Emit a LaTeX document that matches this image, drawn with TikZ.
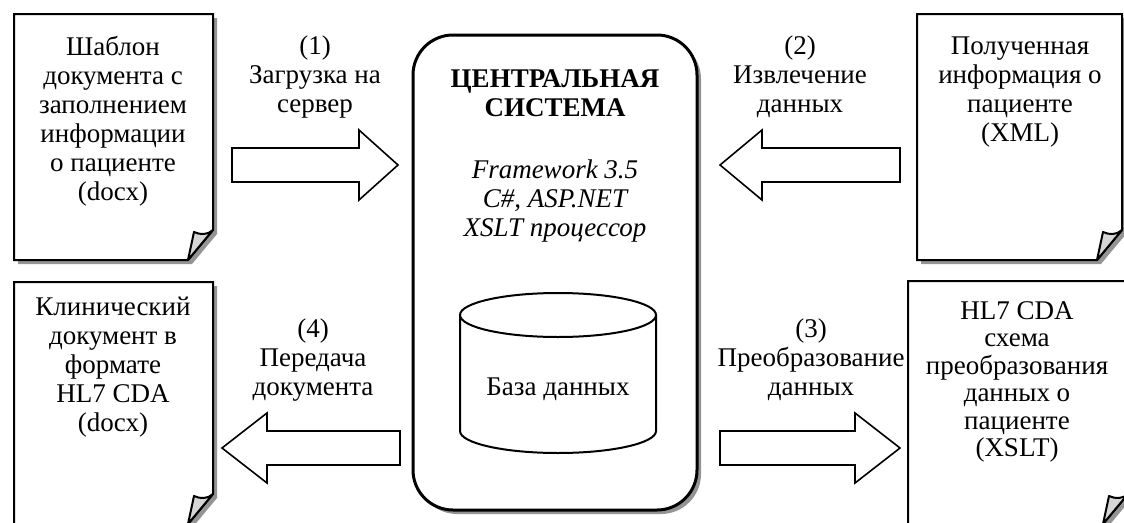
\documentclass[tikz,border=0pt]{standalone}
\usepackage{fontspec}
\setmainfont{Liberation Serif}
\usetikzlibrary{calc}
\definecolor{shadowgray}{gray}{0.58}
\definecolor{foldgray}{gray}{0.84}
\newcommand\docpage[4]{% x1 y1 x2 y2
  \fill[shadowgray] ({#1+4},{#2+4}) -- ({#3+4},{#2+4}) -- ({#3+4},{#4-26}) -- ({#3-21},{#4+4}) -- ({#1+4},{#4+4}) -- cycle;
  \draw[docline, fill=white] (#1,#2) -- (#3,#2) -- (#3,{#4-30}) -- ({#3-25},#4) -- (#1,#4) -- cycle;
  \draw[docline, fill=foldgray, line join=round] (#3,{#4-30}) .. controls ({#3-5},{#4-25}) and ({#3-13},{#4-25}) .. ({#3-19},{#4-28}) -- ({#3-25},#4) -- cycle;
}
\newcommand\blockarrow[5]{% name tailx headbasex tipx y
  \coordinate (#1tail) at (#2,#5);
  \coordinate (#1tip) at (#4,#5);
  \draw[barrow] (#2,{#5-17}) -- (#3,{#5-17}) -- (#3,{#5-35}) -- (#1tip) -- (#3,{#5+35}) -- (#3,{#5+17}) -- (#2,{#5+17}) -- cycle;
}
\begin{document}
\begin{tikzpicture}[x=1pt,y=-1pt,
  docline/.style={line width=2pt, line join=miter},
  barrow/.style={line width=1.6pt, fill=white, line join=miter},
  txt/.style={align=center, inner sep=0pt, font=\fontsize{27}{29}\selectfont},
  title/.style={align=center, inner sep=0pt, font=\fontsize{27}{29}\selectfont\bfseries},
  itxt/.style={align=center, inner sep=0pt, font=\fontsize{27}{29}\selectfont\itshape}]
\useasboundingbox (0,0) rectangle (1124,522);
\clip (0,0) rectangle (1124,522);

% documents
\docpage{14}{14}{213}{260}
\docpage{917}{14}{1122}{260}
\docpage{14}{282}{213}{524}
\docpage{908}{281}{1128}{524}

\node[txt] (doc1) at (113,121) {Шаблон\\документа с\\заполнением\\информации\\о пациенте\\(docx)};
\node[txt] (doc2) at (1020,92) {Полученная\\информация о\\пациенте\\(XML)};
\node[txt] (doc4) at (113,367) {Клинический\\документ в\\формате\\HL7 CDA\\(docx)};
\node[txt, font=\fontsize{27}{27.4}\selectfont] (doc3) at (1017,382) {HL7 CDA\\схема\\преобразования\\данных о\\пациенте\\(XSLT)};

% central system
\fill[shadowgray, rounded corners=40pt] (417,39) rectangle (701,514);
\draw[line width=3pt, fill=white, rounded corners=40pt] (413,35) rectangle (697,510);
\node[title] (cstitle) at (555,93) {ЦЕНТРАЛЬНАЯ\\СИСТЕМА};
\node[itxt] (cstech) at (555,201) {Framework 3.5\\C\#, ASP.NET\\XSLT процессор};

% database cylinder
\draw[line width=2pt, fill=white] (460,315) -- (460,431)
  .. controls (460,443.15) and (504.1,453) .. (558,453)
  .. controls (611.9,453) and (656,443.15) .. (656,431) -- (656,315);
\draw[line width=2pt, fill=white] (558,315) ellipse [x radius=98, y radius=22];
\node[txt] (db) at (558,389) {База данных};

% block arrows
\blockarrow{a1}{232}{359}{398}{165}
\blockarrow{a2}{900}{762}{720}{165}
\blockarrow{a4}{400}{267}{222}{448}
\blockarrow{a3}{720}{855}{900}{448}

% arrow labels
\node[txt] (l1) at (315,77) {(1)\\Загрузка на\\сервер};
\node[txt] (l2) at (800,77) {(2)\\Извлечение\\данных};
\node[txt] (l4) at (313,360) {(4)\\Передача\\документа};
\node[txt] (l3) at (811,360) {(3)\\Преобразование\\данных};
\end{tikzpicture}
\end{document}
